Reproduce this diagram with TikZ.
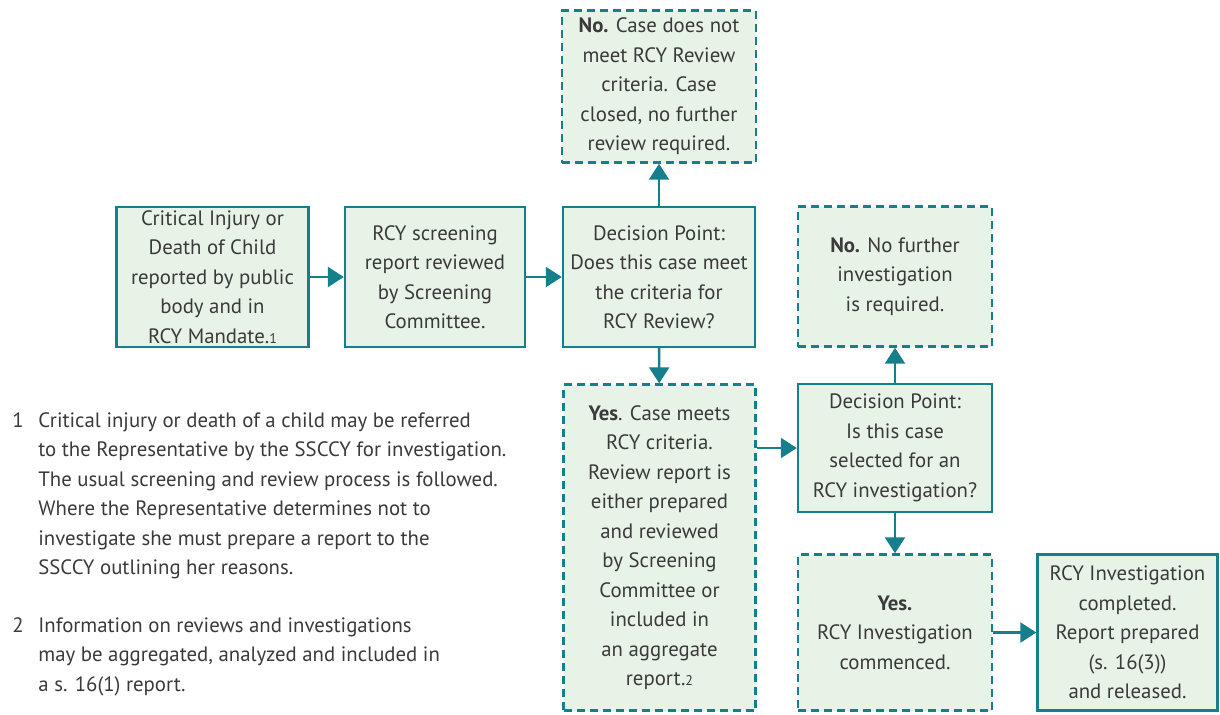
\documentclass[tikz,border=0pt]{standalone}
\usepackage{fontspec}
\setmainfont{PT Sans}
\usepackage{tikz}
\usetikzlibrary{arrows.meta,positioning}
\definecolor{rcyteal}{HTML}{167F8C}
\definecolor{rcyfill}{HTML}{E8F3E8}
\definecolor{rcytext}{HTML}{3A3A3A}

\tikzset{
  box/.style={draw=rcyteal, fill=rcyfill, line width=1.2pt, align=center,
    inner sep=0pt, text=rcytext, font=\fontsize{10.4}{14.75}\selectfont},
  dbox/.style={box, dash pattern=on 4pt off 2.5pt},
  flow/.style={draw=rcyteal, line width=1.2pt, -{Triangle[length=8pt,width=10pt]}},
  note/.style={anchor=north west, align=left, inner sep=0pt, text=rcytext,
    font=\fontsize{10.4}{14.75}\selectfont}
}

\begin{document}
\begin{tikzpicture}[x=0.5pt,y=-0.5pt]
\useasboundingbox (0,0) rectangle (1220,714);

\node[box, minimum width=96pt, minimum height=70pt] (injury) at (212.5,277)
  {Critical Injury or\\Death of Child\\reported by public\\body and in\\RCY Mandate.{\scriptsize 1}};
\node[box, minimum width=90pt, minimum height=70pt] (screen) at (435,277)
  {RCY screening\\report reviewed\\by Screening\\Committee.};
\node[box, minimum width=96pt, minimum height=70pt] (decide) at (659,277)
  {Decision Point:\\Does this case meet\\the criteria for\\RCY Review?};
\node[dbox, minimum width=97pt, minimum height=76pt] (closed) at (659,86.5)
  {\textbf{No.} Case does not\\meet RCY Review\\criteria. Case\\closed, no further\\review required.};
\node[dbox, minimum width=96pt, minimum height=163pt] (meets) at (659.5,547.5)
  {\textbf{Yes}. Case meets\\RCY criteria.\\Review report is\\either prepared\\and reviewed\\by Screening\\Committee or\\included in\\an aggregate\\report.{\scriptsize 2}};
\node[box, minimum width=97pt, minimum height=64pt] (select) at (895,448)
  {Decision Point:\\Is this case\\selected for an\\RCY investigation?};
\node[dbox, minimum width=97pt, minimum height=70pt] (nofurther) at (895,276.5)
  {\textbf{No.} No further\\investigation\\is required.};
\node[dbox, minimum width=97pt, minimum height=78pt] (commence) at (895,632.5)
  {\textbf{Yes.}\\RCY Investigation\\commenced.};
\node[box, minimum width=90pt, minimum height=78pt] (released) at (1127.5,632.5)
  {RCY Investigation\\completed.\\Report prepared\\(s. 16(3))\\and released.};

\draw[flow] (injury) -- (screen);
\draw[flow] (screen) -- (decide);
\draw[flow] (decide) -- (closed);
\draw[flow] (decide) -- (meets);
\draw[flow] (meets.east |- select) -- (select);
\draw[flow] (select) -- (nofurther);
\draw[flow] (select) -- (commence);
\draw[flow] (commence) -- (released);

\node[note] (n1) at (12,412) {1};
\node[note] (t1) at (38,412)
  {Critical injury or death of a child may be referred\\to the Representative by the SSCCY for investigation.\\The usual screening and review process is followed.\\Where the Representative determines not to\\investigate she must prepare a report to the\\SSCCY outlining her reasons.};
\node[note] (n2) at (12,617) {2};
\node[note] (t2) at (38,617)
  {Information on reviews and investigations\\may be aggregated, analyzed and included in\\a s. 16(1) report.};
\end{tikzpicture}
\end{document}
